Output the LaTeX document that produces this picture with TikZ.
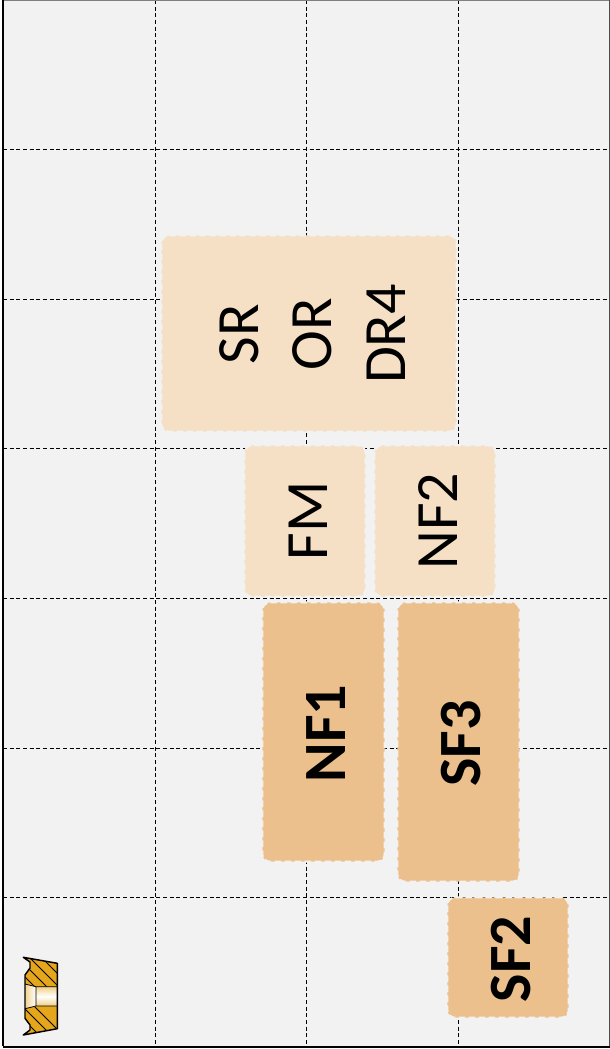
\documentclass[tikz,border=0pt]{standalone}
\usepackage{xcolor}
\usepackage{fontspec}
\setmainfont{Carlito}
\definecolor{panel}{RGB}{242,242,242}
\definecolor{light}{RGB}{245,224,197}
\definecolor{strong}{RGB}{235,192,141}
\definecolor{brass}{RGB}{228,166,28}

\begin{document}
\begin{tikzpicture}[
  x=0.75pt, y=-0.75pt,
  band/.style={rotate=90, rounded corners=6pt, draw=panel, dash pattern=on 5pt off 2.5pt, line width=1.4pt, inner sep=0pt, text=black, text height=33.5pt},
  weak/.style={band, fill=light, font=\fontsize{45}{54}\selectfont},
  heavy/.style={band, fill=strong, font=\fontsize{45}{54}\selectfont\bfseries, execute at end node=\hspace*{2.25pt}},
  tag/.style={rotate=90, inner sep=0pt, text=black, font=\fontsize{45}{54}\selectfont},
  gridline/.style={black, line width=0.75pt, dash pattern=on 3pt off 2pt},
  hatch/.style={black, line width=0.6pt}
]
  \useasboundingbox (0,0) rectangle (610,1049);
  \fill[panel] (3,0) rectangle (609,1046);

  % grid
  \foreach \gx in {155,306.5,458}
    \draw[gridline] (\gx,0) -- (\gx,1046);
  \foreach \gy in {149.5,299,448.5,598,748,897.5}
    \draw[gridline] (3,\gy) -- (609,\gy);

  % frame
  \draw[black!50, line width=0.75pt] (3,0.5) -- (609,0.5);
  \draw[black!70, line width=0.75pt] (609,0) -- (609,1046);
  \draw[black, line width=0.9pt] (3,0) -- (3,1046);
  \draw[black, line width=1.5pt] (3,1046.5) -- (610,1046.5);

  % bands
  \node[weak, minimum width=147.25pt, minimum height=221.5pt] (upper) at (309,333.5) {};
  \node[tag] (sr) at (239.5,334) {SR};
  \node[tag] (or) at (312,334) {OR};
  \node[tag] (drfour) at (386.5,334) {DR4};
  \node[weak, minimum width=113.5pt, minimum height=91pt] (fm) at (305,521) {FM};
  \node[weak, minimum width=113.5pt, minimum height=91pt] (nftwo) at (435,521) {NF2};
  \node[heavy, minimum width=194.5pt, minimum height=91.75pt] (nfone) at (323.5,732) {NF1};
  \node[heavy, minimum width=209.5pt, minimum height=91.75pt] (sfthree) at (458.5,742) {SF3};
  \node[heavy, minimum width=90.25pt, minimum height=91pt] (sftwo) at (508,957.5) {SF2};

  % insert
  \fill[brass] (23.3,957.3) -- (57.3,963.3) -- (57.3,1028.7) -- (23.3,1035) -- (30,1030) -- (30,1025) -- (25,1018.3) -- (25,975) -- (30,968) -- (30,962) -- cycle;
  \begin{scope}
    \clip (23.3,957.3) -- (57.3,963.3) -- (57.3,1028.7) -- (23.3,1035) -- (30,1030) -- (30,1025) -- (25,1018.3) -- (25,975) -- (30,968) -- (30,962) -- cycle;
    \foreach \hx in {-6,6,18,30,42}
      \draw[hatch] (\hx,958) -- ++(30,30);
    \foreach \hx in {-18,-6,6,18,30}
      \draw[hatch] (\hx,1002) -- ++(34,34);
    \shade[top color=brass!70!white, bottom color=brass!70!white, middle color=white] (25,984) -- (36,986.7) -- (57.3,986.7) -- (57.3,1006) -- (36,1006) -- (25,1008.7) -- cycle;
    \shade[left color=brass!50!white, right color=white] (25,984) -- (36,986.7) -- (36,1006) -- (25,1008.7) -- cycle;
  \end{scope}
  \draw[black, line width=0.6pt] (25,984) -- (36,986.7) -- (57.3,986.7) (57.3,1006) -- (36,1006) -- (25,1008.7) (36,986.7) -- (36,1006);
  \draw[black, line width=1.1pt, line join=round] (23.3,957.3) -- (57.3,963.3) -- (57.3,1028.7) -- (23.3,1035) -- (30,1030) -- (30,1025) -- (25,1018.3) -- (25,975) -- (30,968) -- (30,962) -- cycle;
\end{tikzpicture}
\end{document}
